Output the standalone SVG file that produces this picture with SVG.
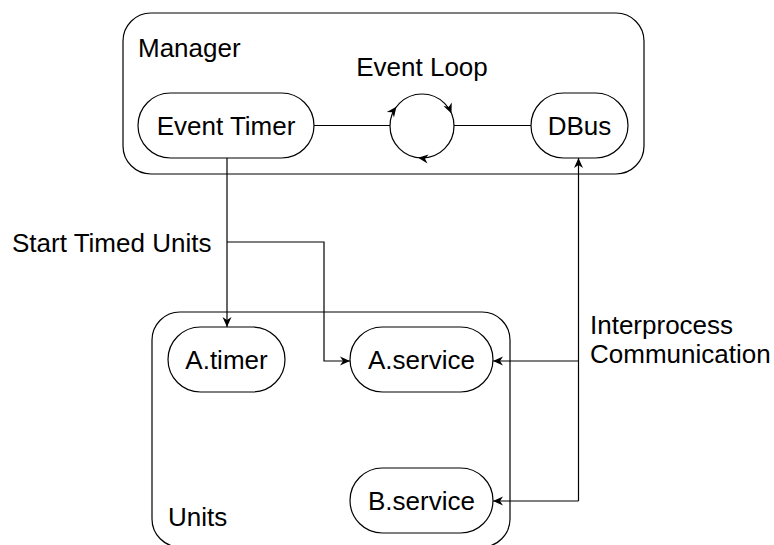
<svg xmlns="http://www.w3.org/2000/svg" width="774" height="545" viewBox="0 0 774 545">
<defs>
<style>
.box{fill:#fff;stroke:#000;stroke-width:1.2}
.node{fill:#fff;stroke:#000;stroke-width:1.2}
.ln{fill:none;stroke:#000;stroke-width:1.2}
text{font-family:"Liberation Sans",Arial,Helvetica,sans-serif;font-size:26px;fill:#000}
.c{text-anchor:middle}
</style>
<marker id="arr" viewBox="0 0 10 10" refX="10" refY="5" markerWidth="10" markerHeight="10" markerUnits="userSpaceOnUse" orient="auto">
<path d="M0,0.5 L10,5 L0,9.5 L3,5 Z" fill="#000"/>
</marker>
<path id="ah" d="M0,0 L-10,-4.5 L-7,0 L-10,4.5 Z" fill="#000"/>
</defs>
<rect width="774" height="545" fill="#fff"/>

<g id="manager">
<rect class="box" x="123" y="13" width="521" height="161" rx="28"/>
<text x="138" y="57">Manager</text>
</g>
<g id="units">
<rect class="box" x="152" y="312" width="358" height="235" rx="28"/>
<text x="168" y="526">Units</text>
</g>

<g id="event-loop">
<text class="c" x="422" y="76">Event Loop</text>
<circle class="ln" cx="422" cy="126" r="32"/>
<use href="#ah" transform="translate(396.4,106.7) rotate(-53)"/>
<use href="#ah" transform="translate(451.5,113.5) rotate(67)"/>
<use href="#ah" transform="translate(418.1,157.8) rotate(187)"/>
</g>

<g id="connectors">
<line class="ln" x1="314" y1="125.5" x2="390" y2="125.5"/>
<line class="ln" x1="454" y1="125.5" x2="531" y2="125.5"/>
<path class="ln" d="M227 158 V327" marker-end="url(#arr)"/>
<path class="ln" d="M227 242 H324 V361 H350" marker-end="url(#arr)"/>
<path class="ln" d="M578.5 501 V158" marker-end="url(#arr)"/>
<path class="ln" d="M578.5 361 H493" marker-end="url(#arr)"/>
<path class="ln" d="M578.5 501 H493" marker-end="url(#arr)"/>
<text x="12" y="252">Start Timed Units</text>
<text x="590" y="334">Interprocess</text>
<text x="590" y="363">Communication</text>
</g>

<g id="event-timer">
<rect class="node" x="138" y="93" width="176" height="65" rx="32.5"/>
<text class="c" x="226" y="135">Event Timer</text>
</g>
<g id="dbus">
<rect class="node" x="531" y="93" width="97" height="65" rx="32.5"/>
<text class="c" x="579.5" y="135">DBus</text>
</g>
<g id="a-timer">
<rect class="node" x="168" y="327" width="117" height="65" rx="32.5"/>
<text class="c" x="226.5" y="369">A.timer</text>
</g>
<g id="a-service">
<rect class="node" x="350" y="327" width="143" height="65" rx="32.5"/>
<text class="c" x="421.5" y="369">A.service</text>
</g>
<g id="b-service">
<rect class="node" x="350" y="468" width="143" height="65" rx="32.5"/>
<text class="c" x="421.5" y="510">B.service</text>
</g>
</svg>
